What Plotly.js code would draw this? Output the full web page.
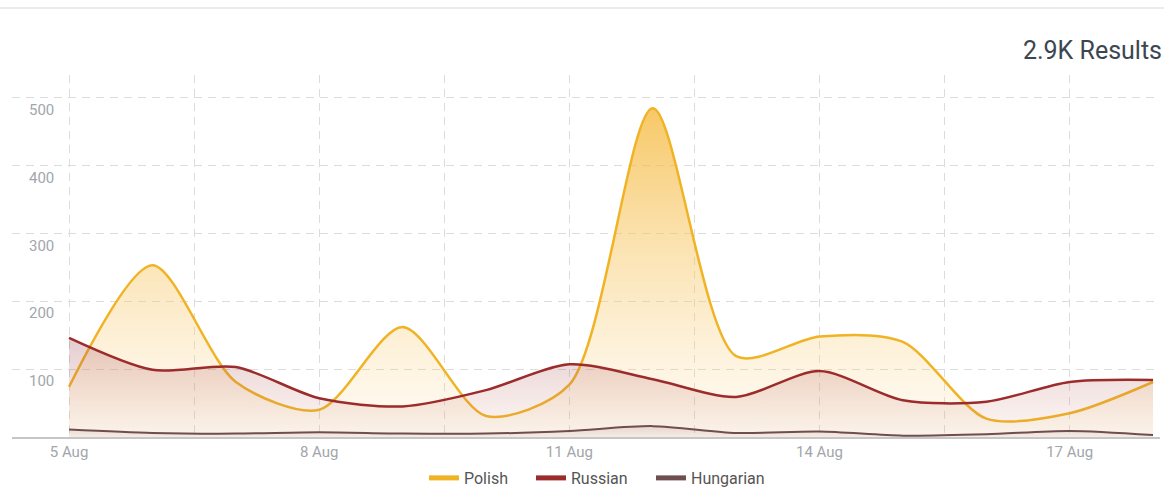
<!DOCTYPE html>
<html>
<head>
<meta charset="utf-8">
<script src="https://cdn.plot.ly/plotly-3.0.1.min.js"></script>
<style>
html,body{margin:0;padding:0;background:#fff;}
#chart{width:1164px;height:488px;}
</style>
</head>
<body>
<div id="chart"></div>
<script>
const dates = ['2023-08-05','2023-08-06','2023-08-07','2023-08-08','2023-08-09','2023-08-10','2023-08-11',
               '2023-08-12','2023-08-13','2023-08-14','2023-08-15','2023-08-16','2023-08-17','2023-08-18'];
const polish    = [74, 253, 81, 40, 162, 31, 77, 484, 119, 148, 140, 27, 35, 81];
const russian   = [146, 99, 103, 57, 45, 69, 107, 85, 59, 97, 54, 52, 81, 84];
const hungarian = [11, 6, 5, 7, 5, 5, 9, 16, 6, 8, 2, 4, 9, 3];
const seriesNames = ['Polish', 'Russian', 'Hungarian'];
const xTickVals = ['2023-08-05 00:00','2023-08-06 12:00','2023-08-08 00:00','2023-08-09 12:00','2023-08-11 00:00',
                   '2023-08-12 12:00','2023-08-14 00:00','2023-08-15 12:00','2023-08-17 00:00'];
const xTickText = ['5 Aug','','8 Aug','','11 Aug','','14 Aug','','17 Aug'];
const yTickVals = [100, 200, 300, 400, 500];
const totalText = '2.9K Results';

const colors = ['#f0b323', '#9c2b2b', '#6e4e4e'];
const legendWidths = [62, 75, 80];
const grads = [
  {start:0, stop:490, colorscale:[[0,'rgba(250,215,150,0.10)'],[1,'rgba(245,185,60,0.80)']]},
  {start:0, stop:146, colorscale:[[0,'rgba(200,120,90,0.06)'],[1,'rgba(160,70,90,0.28)']]},
  {start:0, stop:16,  colorscale:[[0,'rgba(150,90,80,0.05)'],[1,'rgba(120,80,80,0.15)']]}
];
const values = [polish, russian, hungarian];

const traces = [];
values.forEach((v, i) => {
  traces.push({
    x: dates, y: v, type: 'scatter', mode: 'lines',
    line: {color: colors[i], width: i === 2 ? 2 : 2.5, shape: 'spline', smoothing: 0.8},
    fill: 'tozeroy',
    fillgradient: Object.assign({type: 'vertical'}, grads[i]),
    showlegend: false, hoverinfo: 'x+y', name: seriesNames[i]
  });
});
values.forEach((v, i) => {
  traces.push({
    x: [null], y: [null], type: 'scatter', mode: 'lines',
    line: {color: colors[i], width: 5}, name: seriesNames[i], showlegend: true,
    legendwidth: legendWidths[i]
  });
});

const layout = {
  width: 1164, height: 488,
  margin: {l: 12, r: 4, t: 75, b: 51},
  paper_bgcolor: '#ffffff', plot_bgcolor: '#ffffff',
  font: {family: 'Roboto, sans-serif', color: '#555'},
  title: {text: totalText, xref: 'container', yref: 'container', x: 1162/1164, xanchor: 'right',
          y: 1 - 50/488, yanchor: 'middle', font: {size: 25, color: '#3c4650', family: 'Roboto, sans-serif'}},
  xaxis: {
    type: 'date', range: ['2023-08-04 07:35', '2023-08-18 02:00'],
    tickmode: 'array', tickvals: xTickVals, ticktext: xTickText,
    showgrid: true, gridcolor: '#dcdcdc', gridwidth: 1, griddash: '8px,6px',
    showline: true, linecolor: '#c6c6c6', linewidth: 1.5,
    ticks: '', tickfont: {size: 15, color: '#a2a6aa'}, zeroline: false
  },
  yaxis: {
    range: [0, 533], tickmode: 'array', tickvals: yTickVals,
    showgrid: true, gridcolor: '#dcdcdc', gridwidth: 1, griddash: '8px,6px',
    ticklabelposition: 'inside', ticklabelshift: 12, ticklabelstandoff: 14,
    ticks: '', tickfont: {size: 15, color: '#a2a6aa'}, zeroline: false, showline: false
  },
  legend: {orientation: 'h', x: 600/1164, xanchor: 'center', xref: 'container', yref: 'container',
           y: 1 - 478/488, yanchor: 'middle', font: {size: 16, color: '#555'}, itemwidth: 30},
  shapes: [{type: 'line', xref: 'paper', yref: 'paper', x0: -0.02, x1: 1.02,
            y0: (437-8)/362, y1: (437-8)/362, line: {color: '#e6e6e6', width: 1.5}}]
};

Plotly.newPlot('chart', traces, layout, {displayModeBar: false, staticPlot: true});
</script>
</body>
</html>
